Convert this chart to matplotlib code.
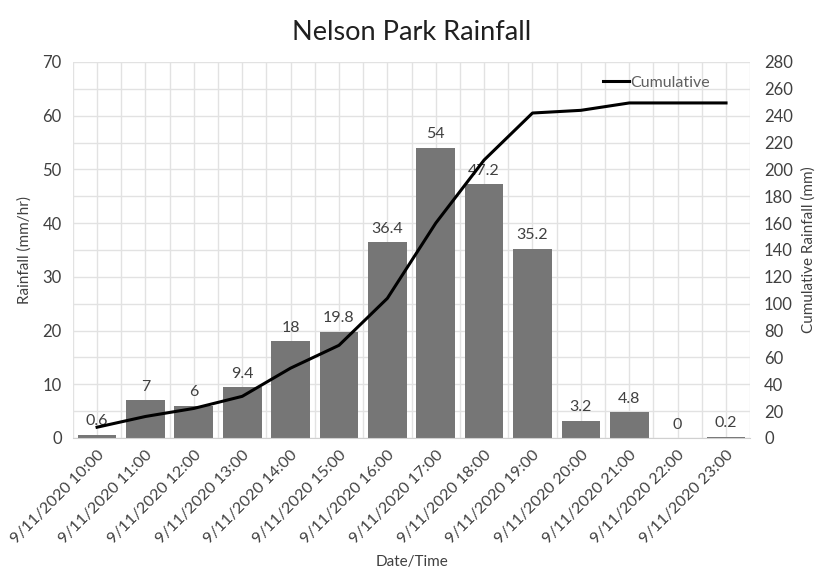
import numpy as np
import matplotlib.pyplot as plt

plt.rcParams['font.family'] = ['Lato', 'DejaVu Sans']

times = ['9/11/2020 10:00', '9/11/2020 11:00', '9/11/2020 12:00', '9/11/2020 13:00',
         '9/11/2020 14:00', '9/11/2020 15:00', '9/11/2020 16:00', '9/11/2020 17:00',
         '9/11/2020 18:00', '9/11/2020 19:00', '9/11/2020 20:00', '9/11/2020 21:00',
         '9/11/2020 22:00', '9/11/2020 23:00']
rainfall = [0.6, 7, 6, 9.4, 18, 19.8, 36.4, 54, 47.2, 35.2, 3.2, 4.8, 0, 0.2]
cumulative = [8, 16, 22, 31, 52, 69, 104, 160, 207, 242, 244, 249.5, 249.5, 249.5]

x = np.arange(len(times))

fig = plt.figure(figsize=(8.19, 5.74), dpi=100)
ax = fig.add_axes([0.089, 0.237, 0.827, 0.655])
ax2 = ax.twinx()

# grid behind everything
ax.set_xlim(-0.5, len(times) - 0.5)
ax.set_ylim(0, 70)
ax.set_yticks(np.arange(0, 71, 10))
ax.set_yticks(np.arange(0, 71, 5), minor=True)
ax.set_xticks(np.arange(-0.5, len(times), 0.5), minor=True)
ax.grid(which='both', color='#e2e2e2', linewidth=1)
ax.set_axisbelow(True)

ax.bar(x, rainfall, width=0.8, color='#767676', zorder=2)
for xi, v in zip(x, rainfall):
    ax.text(xi, v + 1.2, f'{v:g}', ha='center', va='bottom', fontsize=11.5, color='#404040')

ax2.plot(x, cumulative, color='black', linewidth=2.2, label='Cumulative')
ax2.set_ylim(0, 280)
ax2.set_yticks(np.arange(0, 281, 20))

ax.set_xticks(x)
ax.set_xticklabels(times, rotation=45, ha='right', rotation_mode='anchor', fontsize=11.5, color='#404040')
ax.tick_params(axis='x', which='both', length=0, pad=7)
ax.tick_params(axis='y', which='both', length=0, labelsize=12, labelcolor='#404040', pad=8)
ax2.tick_params(axis='y', length=0, labelsize=12, labelcolor='#404040', pad=10)

for a in (ax, ax2):
    for s in a.spines.values():
        s.set_visible(False)
ax.spines['bottom'].set_visible(True)
ax.spines['bottom'].set_color('#d0d0d0')

ax.set_ylabel('Rainfall (mm/hr)', fontsize=11, color='#404040', labelpad=8)
ax2.set_ylabel('Cumulative Rainfall (mm)', fontsize=11, color='#404040', labelpad=6)
ax.set_xlabel('Date/Time', fontsize=11, color='#404040', labelpad=6)
ax.set_title('Nelson Park Rainfall', fontsize=19.5, color='#202020', pad=16)

leg = ax2.legend(loc='upper right', bbox_to_anchor=(0.955, 0.99), frameon=False,
                 fontsize=11.5, handlelength=1.6, handletextpad=0.1, borderaxespad=0.2)
for t in leg.get_texts():
    t.set_color('#606060')

fig.savefig('out.png', dpi=100)
